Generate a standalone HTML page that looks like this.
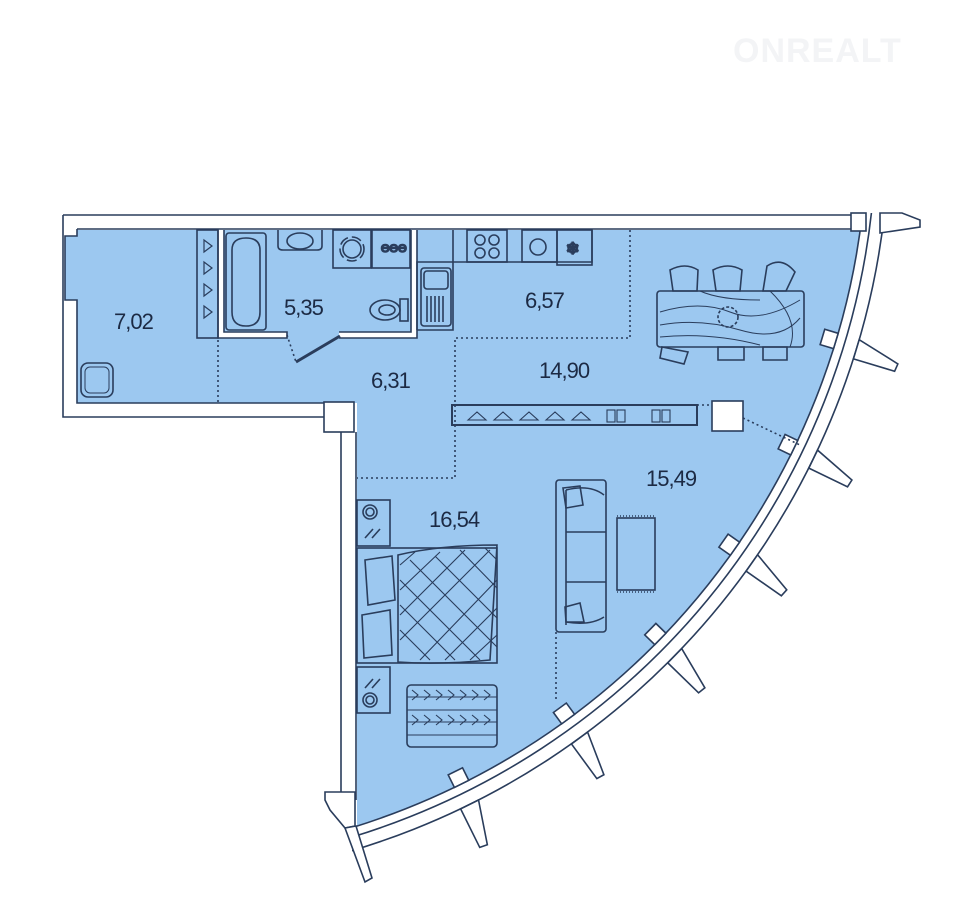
<!DOCTYPE html>
<html><head><meta charset="utf-8"><style>
html,body{margin:0;padding:0;background:#fff;}
svg{display:block}
text{font-family:"Liberation Sans",sans-serif;font-size:22px;fill:#1c2a44;letter-spacing:-1px}
</style></head><body>
<svg width="960" height="910" viewBox="0 0 960 910" xmlns="http://www.w3.org/2000/svg">
<defs>
<clipPath id="cin"><circle cx="137" cy="130" r="730"/></clipPath>
<clipPath id="cwall"><rect x="352" y="213" width="700" height="700"/></clipPath>
</defs>
<g fill="none" stroke="#2a3d5c" stroke-width="1.6">
<path clip-path="url(#cin)" d="M77,230 H930 V900 H357 V403 H77 V300 H65 V236 H77 Z" fill="#9cc8f0" stroke="none"/>
<g clip-path="url(#cwall)">
<circle cx="137" cy="130" r="730"/>
<circle cx="137" cy="130" r="739"/>
<circle cx="137" cy="130" r="752"/>
</g>
<path d="M63,215 H851 M63,215 V417 H324 M77,229 H851 M77,229 V236 H65 V300 H77 V403 H324"/>
<rect x="324" y="402" width="30" height="30" fill="#fff"/>
<path d="M341,432 V792 M356,432 V800" />
<rect x="851" y="213" width="15" height="18" fill="#fff"/>
<polygon points="880,213 902,213 920,220 920,227 880,233" fill="#fff"/>
<polygon points="325,792 355,792 355,826 345,828 330,810 325,800" fill="#fff"/>
<polygon points="345,828 356,826 372,878 365,882" fill="#fff"/>
<g fill="#fff">
<g transform="translate(137,130) rotate(16.8)"><rect x="716" y="-8" width="14" height="16"/><polygon points="752,-8 752,12 795,12 796,4"/></g>
<g transform="translate(137,130) rotate(25.8)"><rect x="716" y="-8" width="14" height="16"/><polygon points="752,-8 752,12 795,12 796,4"/></g>
<g transform="translate(137,130) rotate(35)"><rect x="716" y="-8" width="14" height="16"/><polygon points="752,-8 752,12 795,12 796,4"/></g>
<g transform="translate(137,130) rotate(44.2)"><rect x="716" y="-8" width="14" height="16"/><polygon points="752,-8 752,12 795,12 796,4"/></g>
<g transform="translate(137,130) rotate(53.8)"><rect x="716" y="-8" width="14" height="16"/><polygon points="752,-8 752,12 795,12 796,4"/></g>
<g transform="translate(137,130) rotate(63.6)"><rect x="716" y="-8" width="14" height="16"/><polygon points="752,-8 752,12 795,12 796,4"/></g>
</g>
<rect x="218" y="230" width="6" height="108" fill="#fff" stroke="none"/>
<rect x="224" y="332" width="63" height="6" fill="#fff" stroke="none"/>
<rect x="339" y="332" width="78" height="6" fill="#fff" stroke="none"/>
<rect x="411" y="230" width="6" height="102" fill="#fff" stroke="none"/>
<path d="M218,230 V338 H287 V332 H224 V230 M339,338 H417 V230 M339,332 H411 V230"/>
<line x1="340" y1="336" x2="296" y2="362" stroke-width="3"/>
<path d="M287,335 L296,362" stroke-dasharray="2 3"/>
<g stroke-dasharray="2 3">
<path d="M218,340 V403 M630,230 V338 H455 V478 H357 M452,405 H712 M743,418 L800,445 M556,632 V700"/>
</g>
<rect x="197" y="230" width="21" height="108"/>
<g stroke-width="1.2"><path d="M204,240 l8,6 -8,6 z M204,262 l8,6 -8,6 z M204,284 l8,6 -8,6 z M204,306 l8,6 -8,6 z"/></g>
<rect x="81" y="363" width="32" height="34" rx="7"/>
<rect x="85" y="367" width="24" height="26" rx="5" stroke-width="1"/>
<rect x="226" y="233" width="40" height="97" rx="3"/>
<path d="M232,250 Q232,238 246,238 Q260,238 260,250 V312 Q260,326 246,326 Q232,326 232,312 Z"/>
<path d="M278,230 V246 Q278,250 283,250 H317 Q322,250 322,246 V230"/>
<ellipse cx="300" cy="241" rx="13" ry="8"/>
<rect x="333" y="230" width="38" height="38"/><circle cx="352" cy="249" r="9"/><circle cx="352" cy="249" r="12" stroke-dasharray="10 4"/>
<rect x="372" y="230" width="38" height="38"/>
<text x="381" y="252" style="font-size:11px;letter-spacing:0">ƟƟƟ</text>
<ellipse cx="385" cy="310" rx="15" ry="10"/><ellipse cx="387" cy="310" rx="8" ry="5"/><rect x="400" y="299" width="8" height="22"/>
<path d="M417,330 V262 H453 V230 M453,262 H592 V230 M417,330 H453 V262"/>
<rect x="421" y="268" width="30" height="58" rx="3"/><rect x="424" y="271" width="24" height="18" rx="3"/>
<path d="M427,296 V322 M431,296 V322 M435,296 V322 M439,296 V322 M443,296 V322"/>
<rect x="467" y="230" width="40" height="32"/>
<circle cx="480" cy="240" r="5"/><circle cx="494" cy="240" r="5"/><circle cx="480" cy="253" r="5"/><circle cx="494" cy="253" r="5"/>
<rect x="522" y="230" width="35" height="32"/><circle cx="538" cy="247" r="8"/>
<rect x="557" y="230" width="35" height="35"/>
<text x="566" y="254" style="font-size:16px;letter-spacing:0">❄</text>
<rect x="657" y="291" width="147" height="56" rx="3"/>
<path d="M660,312 Q700,300 730,312 T800,300 M660,325 Q700,318 740,330 T800,318 M660,337 Q710,332 760,345 M700,291 Q720,300 760,300 M770,291 Q800,320 790,347" stroke-width="1"/>
<circle cx="728" cy="317" r="10" stroke-dasharray="3 2"/>
<path d="M670,270 Q685,262 698,270 L697,291 H673 Z M713,270 Q728,262 742,270 L740,291 H716 Z M767,266 Q782,256 795,272 L786,291 H763 Z M718,347 H744 V360 H718 Z M763,347 H787 V360 H763 Z M662,347 L688,352 L684,364 L660,358 Z"/>
<rect x="452" y="405" width="245" height="20" stroke-width="2"/>
<g stroke-width="1.1"><path d="M468,420 l9,-8 9,8 z M494,420 l9,-8 9,8 z M520,420 l9,-8 9,8 z M546,420 l9,-8 9,8 z M572,420 l9,-8 9,8 z"/>
<rect x="607" y="410" width="8" height="12"/><rect x="617" y="410" width="8" height="12"/><rect x="652" y="410" width="8" height="12"/><rect x="662" y="410" width="8" height="12"/></g>
<rect x="712" y="401" width="31" height="30" fill="#fff"/>
<rect x="556" y="480" width="50" height="152" rx="3"/>
<path d="M566,490 V625 M566,532 H606 M566,582 H606 M566,490 Q590,484 604,495 M566,622 Q590,626 604,617"/>
<path d="M563,488 L580,486 L583,505 L566,508 Z M565,607 L580,603 L584,622 L566,622 Z"/>
<rect x="617" y="518" width="38" height="72"/>
<path d="M617,516 H655 M617,592 H655" stroke-dasharray="1 2"/>
<rect x="357" y="500" width="33" height="46"/><circle cx="370" cy="512" r="7"/><circle cx="370" cy="512" r="4"/><path d="M365,538 l8,-9 M372,538 l8,-9"/>
<rect x="357" y="548" width="140" height="115"/>
<path d="M398,555 Q440,545 497,545 L490,660 Q440,665 398,662 Z"/>
<g stroke-width="1.1"><path d="M400,580 L480,660 M400,605 L455,660 M400,630 L430,660 M410,560 L497,647 M435,556 L497,618 M460,550 L497,588 M485,548 L497,560 M400,640 L490,550 M400,615 L465,550 M400,590 L440,552 M400,565 L415,552 M420,660 L497,580 M445,660 L497,608 M470,660 L497,635"/></g>
<path d="M365,560 L392,556 L395,600 L368,605 Z M362,615 L390,610 L392,655 L364,658 Z"/>
<rect x="357" y="667" width="33" height="46"/><circle cx="370" cy="700" r="7"/><circle cx="370" cy="700" r="4"/><path d="M365,688 l8,-9 M372,688 l8,-9"/>
<rect x="407" y="685" width="90" height="62" rx="4"/>
<g stroke-width="1.1"><path d="M407,697 H497 M407,710 H497 M407,722 H497 M407,735 H497"/>
<path d="M412,690 l6,5 -6,5 M424,690 l6,5 -6,5 M436,690 l6,5 -6,5 M448,690 l6,5 -6,5 M460,690 l6,5 -6,5 M472,690 l6,5 -6,5 M484,690 l6,5 -6,5 M412,715 l6,5 -6,5 M424,715 l6,5 -6,5 M436,715 l6,5 -6,5 M448,715 l6,5 -6,5 M460,715 l6,5 -6,5 M472,715 l6,5 -6,5 M484,715 l6,5 -6,5"/></g>
</g>
<text x="114" y="329">7,02</text>
<text x="284" y="315">5,35</text>
<text x="525" y="308">6,57</text>
<text x="539" y="378">14,90</text>
<text x="371" y="388">6,31</text>
<text x="646" y="486">15,49</text>
<text x="429" y="527">16,54</text>
<text x="733" y="62" style="font-size:34px;font-weight:bold;fill:#f3f4f6;letter-spacing:1px">ONREALT</text>
</svg>
</body></html>
